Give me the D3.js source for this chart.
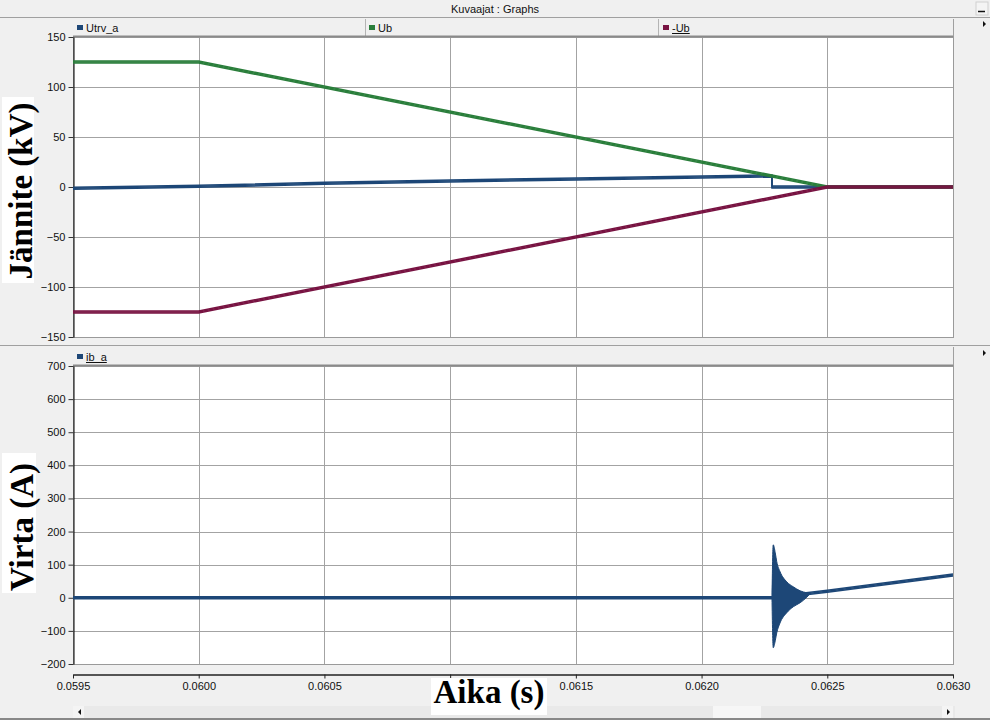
<!DOCTYPE html>
<html><head><meta charset="utf-8">
<script src="https://cdn.jsdelivr.net/npm/d3@7/dist/d3.min.js"></script>
<style>
html,body{margin:0;padding:0;background:#f0f0f0;}
svg{display:block;}
text{font-family:"Liberation Sans",Arial,sans-serif;}
text.big{font-family:"Liberation Serif","Times New Roman",serif;font-weight:bold;}
</style></head>
<body>
<svg id="c" width="990" height="720"></svg>
<script>
// ---------- data ----------
const xTicks = [0.0595, 0.0600, 0.0605, 0.0610, 0.0615, 0.0620, 0.0625, 0.0630];
const xTickLabels = ["0.0595", "0.0600", "0.0605", "", "0.0615", "0.0620", "0.0625", "0.0630"]; // 0.0610 is hidden under the axis title
const vTicks = [-150, -100, -50, 0, 50, 100, 150];
const iTicks = [-200, -100, 0, 100, 200, 300, 400, 500, 600, 700];

const legendTop = ["Utrv_a", "Ub", "-Ub"];
const legendBottom = ["ib_a"];

const utrvT = [0.0595, 0.0600, 0.0605, 0.0610, 0.0615, 0.0620, 0.06228, 0.06228, 0.0630];
const utrvV = [-1.3, 0.7, 3.7, 6.0, 8.0, 10.0, 11.0, 0.0, 0.0];

const ubT = [0.0595, 0.0600, 0.0625, 0.0630];
const ubV = [125, 125, 0, 0];
const negUbV = [-125, -125, 0, 0];

const ibT = [0.0595, 0.06228, 0.0625, 0.0630];
const ibV = [0, 0, 20, 69];

// envelope of the fast oscillation after current interruption
const oscT  = [0.06228, 0.062285, 0.062293, 0.062299, 0.062312, 0.062339, 0.062365, 0.062392, 0.062419, 0.062432];
const oscHi = [0, 160, 136, 109, 79, 48, 33, 21, 15, 13];
const oscLo = [0, -151, -130, -106, -76, -45, -27, -15, 2, 13];

// ---------- drawing ----------
const svg = d3.select("#c");
const W = 990, H = 720;
const L = 73, R = 953;
const colBlue = "#1d4777", colGreen = "#2a7e3b", colRed = "#781342";
const grid = "#a3a3a3";

const x = d3.scaleLinear().domain([0.0595, 0.0630]).range([L, R]);
const yV = d3.scaleLinear().domain([-150, 150]).range([337, 37]);
const yI = d3.scaleLinear().domain([-200, 700]).range([664, 366]);

svg.append("rect").attr("width", W).attr("height", H).attr("fill", "#f0f0f0");

// title bar
svg.append("text").attr("x", 495).attr("y", 13).attr("text-anchor", "middle")
  .attr("font-size", 11).attr("fill", "#111").text("Kuvaajat : Graphs");
svg.append("line").attr("x1", 0).attr("x2", W).attr("y1", 17.5).attr("y2", 17.5).attr("stroke", "#a0a0a0");
svg.append("rect").attr("x", 976).attr("y", 2).attr("width", 12).attr("height", 13).attr("fill", "#f4f4f4").attr("stroke", "#d0d0d0");
svg.append("line").attr("x1", 978).attr("x2", 985).attr("y1", 11.5).attr("y2", 11.5).attr("stroke", "#111").attr("stroke-width", 1.5);

// panel separator
svg.append("line").attr("x1", 0).attr("x2", W).attr("y1", 345.5).attr("y2", 345.5).attr("stroke", "#a0a0a0");

function panel(y, ticks, legend, legendCols, legendTopY, underline) {
  const top = y.range()[1], bot = y.range()[0];
  svg.append("line").attr("x1", R + 0.5).attr("x2", R + 0.5).attr("y1", legendTopY).attr("y2", bot)
    .attr("stroke", "#a0a0a0");
  const seps = [365, 658];
  if (legend.length > 1) seps.forEach(s => svg.append("line").attr("x1", s + 0.5).attr("x2", s + 0.5)
    .attr("y1", legendTopY).attr("y2", top).attr("stroke", "#b4b4b4"));
  legend.forEach((name, i) => {
    const lx = [76, 368, 662][i];
    svg.append("rect").attr("x", lx + 1).attr("y", top - 12).attr("width", 6).attr("height", 5).attr("fill", legendCols[i]);
    const t = svg.append("text").attr("x", lx + 10).attr("y", top - 5).attr("font-size", 11).attr("fill", "#111").text(name);
    if (underline[i]) {
      const w = t.node().getComputedTextLength();
      svg.append("line").attr("x1", lx + 10).attr("x2", lx + 10 + w).attr("y1", top - 3.5).attr("y2", top - 3.5)
        .attr("stroke", "#111");
    }
  });
  svg.append("rect").attr("x", L).attr("y", top).attr("width", R - L).attr("height", bot - top).attr("fill", "#fff");
  svg.append("g").selectAll("line").data(xTicks).join("line")
    .attr("x1", d => Math.round(x(d)) + 0.5).attr("x2", d => Math.round(x(d)) + 0.5)
    .attr("y1", top).attr("y2", bot).attr("stroke", grid);
  svg.append("g").selectAll("line").data(ticks).join("line")
    .attr("x1", L).attr("x2", R)
    .attr("y1", d => Math.round(y(d)) + 0.5).attr("y2", d => Math.round(y(d)) + 0.5).attr("stroke", grid);
  svg.append("rect").attr("x", L + 0.5).attr("y", top - 0.5).attr("width", R - L).attr("height", bot - top + 1)
    .attr("fill", "none").attr("stroke", "#9a9a9a");
  svg.append("line").attr("x1", L).attr("x2", R).attr("y1", top - 0.5).attr("y2", top - 0.5).attr("stroke", "#8a8a8a").attr("stroke-width", 2);
  const ax = svg.append("g").attr("transform", `translate(${L + 0.5},0)`)
    .call(d3.axisLeft(y).tickValues(ticks).tickSize(5).tickSizeOuter(0).tickPadding(3).tickFormat(d3.format("d")));
  ax.select(".domain").attr("stroke", "#000");
  ax.selectAll(".tick line").attr("stroke", "#333");
  ax.selectAll("text").attr("font-size", 11).attr("fill", "#111");
}

panel(yV, vTicks, legendTop, [colBlue, colGreen, colRed], 19, [false, false, true]);
panel(yI, iTicks, legendBottom, [colBlue], 347, [true]);

[[983, 24], [983, 353]].forEach(([ax, ay]) => {
  svg.append("path").attr("d", `M${ax},${ay - 3}L${ax + 3},${ay}L${ax},${ay + 3}Z`).attr("fill", "#111");
});

function series(T, V, y, col) {
  const line = d3.line().x((d, i) => x(T[i])).y(d => y(d));
  [-1, 0, 1].forEach(o => {
    svg.append("path").attr("d", line(V)).attr("transform", `translate(0,${o})`)
      .attr("fill", "none").attr("stroke", col).attr("stroke-width", 1.5);
  });
}
series(utrvT, utrvV, yV, colBlue);
series(ubT, ubV, yV, colGreen);
series(ubT, negUbV, yV, colRed);

series(ibT, ibV, yI, colBlue);
const area = d3.area().x((d, i) => x(oscT[i])).y0((d, i) => yI(oscLo[i])).y1((d, i) => yI(oscHi[i]))
  .curve(d3.curveMonotoneX);
svg.append("path").attr("d", area(oscHi)).attr("fill", colBlue).attr("stroke", colBlue).attr("stroke-width", 1);

// x axis
const xa = svg.append("g").attr("transform", "translate(0,674.5)")
  .call(d3.axisBottom(x).tickValues(xTicks).tickSize(4).tickSizeOuter(0).tickPadding(4)
    .tickFormat((d, i) => xTickLabels[i]));
xa.select(".domain").attr("stroke", "#222").attr("stroke-width", 1.5);
xa.selectAll(".tick line").attr("stroke", "#222");
xa.selectAll("text").attr("font-size", 11).attr("fill", "#111");

// scrollbar
svg.append("rect").attr("x", L).attr("y", 706).attr("width", R - L + 2).attr("height", 12).attr("fill", "#e9e9e9");
svg.append("rect").attr("x", 713).attr("y", 706).attr("width", 48).attr("height", 12).attr("fill", "#f6f6f6");
svg.append("rect").attr("x", L).attr("y", 706).attr("width", 11).attr("height", 12).attr("fill", "#f4f4f4");
svg.append("rect").attr("x", R - 11).attr("y", 706).attr("width", 11).attr("height", 12).attr("fill", "#f4f4f4");
svg.append("path").attr("d", `M${L + 8},709L${L + 5},712L${L + 8},715Z`).attr("fill", "#111");
svg.append("path").attr("d", `M${R - 6},709L${R - 3},712L${R - 6},715Z`).attr("fill", "#111");
svg.append("rect").attr("x", 0).attr("y", 718).attr("width", W).attr("height", 2).attr("fill", "#888");

// big axis titles on white boxes
svg.append("rect").attr("x", 2).attr("y", 97).attr("width", 32).attr("height", 186).attr("fill", "#fff");
svg.append("text").attr("class", "big").attr("transform", "translate(32,191) rotate(-90)").attr("text-anchor", "middle")
  .attr("font-size", 33).attr("fill", "#000").text("Jännite (kV)");
svg.append("rect").attr("x", 2).attr("y", 453).attr("width", 34).attr("height", 140).attr("fill", "#fff");
svg.append("text").attr("class", "big").attr("transform", "translate(33,527) rotate(-90)").attr("text-anchor", "middle")
  .attr("font-size", 33).attr("fill", "#000").text("Virta (A)");
svg.append("rect").attr("x", 431).attr("y", 678).attr("width", 116).attr("height", 37).attr("fill", "#fff");
svg.append("text").attr("class", "big").attr("x", 489).attr("y", 703).attr("text-anchor", "middle")
  .attr("font-size", 33).attr("fill", "#000").text("Aika (s)");
</script>
</body></html>
